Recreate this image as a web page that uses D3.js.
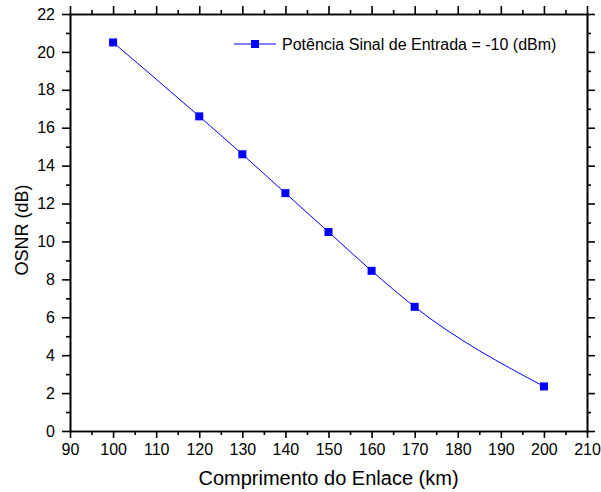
<!DOCTYPE html>
<html>
<head>
<meta charset="utf-8">
<script src="https://cdn.jsdelivr.net/npm/d3@7"></script>
<style>
  body { margin: 0; background: #fff; }
  svg { display: block; font-family: "Liberation Sans", Arial, sans-serif; }
  .axis path, .axis line { stroke: #000; stroke-width: 1.6px; }
  .axis text { font-size: 16px; fill: #000; }
</style>
</head>
<body>
<div id="chart"></div>
<script>
  const lengths = [100, 120, 130, 140, 150, 160, 170, 200];
  const osnr = [20.5, 16.6, 14.6, 12.55, 10.5, 8.45, 6.55, 2.35];
  const legendLabel = 'Potência Sinal de Entrada = -10 (dBm)';
  const xTitle = 'Comprimento do Enlace (km)';
  const yTitle = 'OSNR (dB)';
  const xMajor = d3.range(90, 211, 10);
  const xMinor = d3.range(95, 210, 10);
  const yMajor = d3.range(0, 23, 2);
  const yMinor = d3.range(1, 22, 2);

  const width = 601;
  const height = 492;
  const margin = { top: 14, right: 14, bottom: 61, left: 70 };

  const svg = d3.select('#chart')
    .append('svg')
    .attr('width', width)
    .attr('height', height);

  const x = d3.scaleLinear().domain([90, 210]).range([margin.left, width - margin.right]);
  const y = d3.scaleLinear().domain([0, 22]).range([height - margin.bottom, margin.top]);

  const blue = '#0000ff';

  // minor ticks first, then major axes over them
  const minor = (axis, vals) => axis.tickValues(vals).tickFormat('').tickSizeOuter(0);

  svg.append('g').attr('class', 'axis').attr('transform', `translate(0,${y(0)})`)
    .call(minor(d3.axisBottom(x), xMinor).tickSizeInner(4));
  svg.append('g').attr('class', 'axis').attr('transform', `translate(0,${y(22)})`)
    .call(minor(d3.axisBottom(x), xMinor).tickSizeInner(-4));
  svg.append('g').attr('class', 'axis').attr('transform', `translate(${x(90)},0)`)
    .call(minor(d3.axisLeft(y), yMinor).tickSizeInner(4));
  svg.append('g').attr('class', 'axis').attr('transform', `translate(${x(210)},0)`)
    .call(minor(d3.axisLeft(y), yMinor).tickSizeInner(-4));

  svg.append('g').attr('class', 'axis').attr('transform', `translate(0,${y(0)})`)
    .call(d3.axisBottom(x).tickValues(xMajor).tickSizeInner(7).tickSizeOuter(0).tickPadding(6));
  svg.append('g').attr('class', 'axis').attr('transform', `translate(0,${y(22)})`)
    .call(d3.axisBottom(x).tickValues(xMajor).tickSizeInner(-8).tickSizeOuter(0).tickFormat(''));
  svg.append('g').attr('class', 'axis').attr('transform', `translate(${x(90)},0)`)
    .call(d3.axisLeft(y).tickValues(yMajor).tickSizeInner(8).tickSizeOuter(0).tickPadding(7));
  svg.append('g').attr('class', 'axis').attr('transform', `translate(${x(210)},0)`)
    .call(d3.axisLeft(y).tickValues(yMajor).tickSizeInner(-8).tickSizeOuter(0).tickFormat(''));

  svg.selectAll('.axis .domain').attr('stroke-linecap', 'square');

  const points = lengths.map((d, i) => [d, osnr[i]]);

  const line = d3.line()
    .x(d => x(d[0]))
    .y(d => y(d[1]))
    .curve(d3.curveMonotoneX);

  svg.append('path')
    .datum(points)
    .attr('fill', 'none')
    .attr('stroke', blue)
    .attr('stroke-width', 1)
    .attr('d', line);

  svg.append('g')
    .selectAll('rect')
    .data(points)
    .enter()
    .append('rect')
    .attr('x', d => x(d[0]) - 4)
    .attr('y', d => y(d[1]) - 4)
    .attr('width', 8)
    .attr('height', 8)
    .attr('fill', blue);

  // legend
  const lg = svg.append('g').attr('transform', 'translate(234,44)');
  lg.append('line').attr('x1', 0).attr('x2', 42).attr('stroke', blue).attr('stroke-width', 1);
  lg.append('rect').attr('x', 17).attr('y', -4).attr('width', 8).attr('height', 8).attr('fill', blue);
  lg.append('text').attr('x', 48).attr('y', 6).attr('font-size', 16).text(legendLabel);

  svg.append('text')
    .attr('x', (x(90) + x(210)) / 2)
    .attr('y', 485)
    .attr('text-anchor', 'middle')
    .attr('font-size', 20)
    .text(xTitle);

  svg.append('text')
    .attr('transform', 'translate(28,230) rotate(-90)')
    .attr('text-anchor', 'middle')
    .attr('font-size', 18)
    .text(yTitle);
</script>
</body>
</html>
